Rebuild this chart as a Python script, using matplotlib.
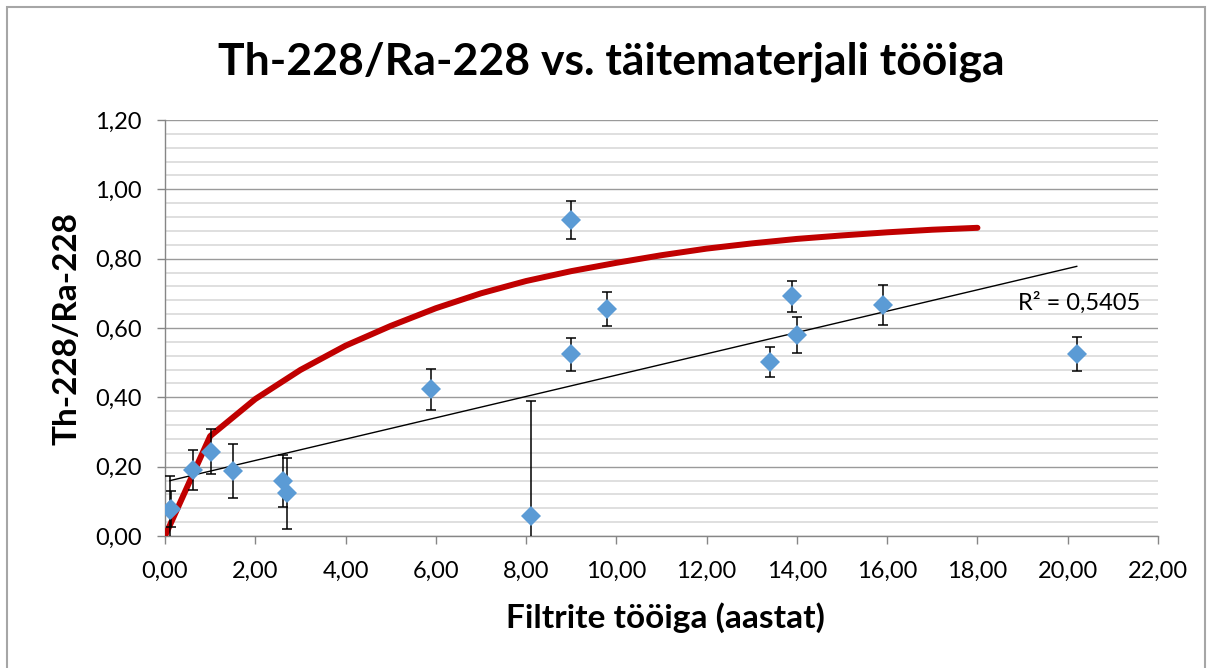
import numpy as np
import matplotlib
matplotlib.use("Agg")
import matplotlib.pyplot as plt
from matplotlib.ticker import MultipleLocator, FuncFormatter
from matplotlib.patches import Rectangle

plt.rcParams['font.family'] = ['Lato', 'DejaVu Sans']

# ---- data ----
title = "Th-228/Ra-228 vs. täitematerjali tööiga"
xlabel = "Filtrite tööiga (aastat)"
ylabel = "Th-228/Ra-228"
r2_label = "R² = 0,5405"

age_years = [0.11, 0.13, 0.62, 1.01, 1.51, 2.61, 2.71, 5.90, 8.10, 9.00, 9.00,
             9.80, 13.40, 13.90, 14.00, 15.90, 20.20]
ratio = [0.074, 0.078, 0.190, 0.243, 0.188, 0.158, 0.123, 0.423, 0.059, 0.911,
         0.524, 0.655, 0.503, 0.692, 0.581, 0.666, 0.525]
ratio_err = [0.098, 0.052, 0.058, 0.065, 0.078, 0.075, 0.102, 0.060, 0.330, 0.055,
             0.048, 0.050, 0.043, 0.045, 0.052, 0.058, 0.050]

model_t = [0, 1, 2, 3, 4, 5, 6, 7, 8, 9, 10, 11, 12, 13, 14, 15, 16, 17, 18]
model_ratio = [0.0, 0.288, 0.395, 0.479, 0.549, 0.606, 0.657, 0.700, 0.7355, 0.764,
               0.788, 0.810, 0.829, 0.844, 0.857, 0.867, 0.876, 0.8835, 0.889]

x_ticks = [0, 2, 4, 6, 8, 10, 12, 14, 16, 18, 20, 22]
y_ticks = [0.0, 0.2, 0.4, 0.6, 0.8, 1.0, 1.2]

# ---- figure ----
W, H = 1213, 668
fig = plt.figure(figsize=(W / 100, H / 100), dpi=100)
ax = fig.add_axes([165 / W, 1 - 536 / H, (1158 - 165) / W, (536 - 120) / H])

# chart border
fig.patches.append(Rectangle((7 / W, -0.05), (1205 - 7) / W, 1 - 7 / H + 0.05,
                             transform=fig.transFigure, fill=False,
                             edgecolor='#a6a6a6', linewidth=1.5))

ax.set_xlim(0, 22)
ax.set_ylim(0, 1.2)
ax.set_xticks(x_ticks)
ax.set_yticks(y_ticks)
ax.yaxis.set_minor_locator(MultipleLocator(0.04))
fmt = FuncFormatter(lambda v, p: f"{v:.2f}".replace('.', ','))
ax.xaxis.set_major_formatter(fmt)
ax.yaxis.set_major_formatter(fmt)

ax.grid(axis='y', which='minor', color='#d9d9d9', linewidth=1.2, zorder=0)
ax.grid(axis='y', which='major', color='#9a9a9a', linewidth=1.0, zorder=0)
ax.set_axisbelow(True)

for s in ['top', 'right']:
    ax.spines[s].set_visible(False)
for s in ['left', 'bottom']:
    ax.spines[s].set_color('#868686')
    ax.spines[s].set_linewidth(1.0)

ax.tick_params(axis='both', which='major', direction='out', length=6,
               color='#868686', width=1.0, labelsize=17, labelcolor='black')
ax.tick_params(axis='x', pad=12)
ax.tick_params(axis='y', pad=11)
ax.tick_params(axis='y', which='minor', length=0)

# model curve
ax.plot(model_t, model_ratio, color='#c00000', linewidth=4.3,
        solid_capstyle='round', zorder=3)

# linear trend
coef = np.polyfit(age_years, ratio, 1)
xt = np.array([min(age_years), max(age_years)])
ax.plot(xt, np.polyval(coef, xt), color='black', linewidth=1.0, zorder=4)

# error bars
ax.errorbar(age_years, ratio, yerr=ratio_err, fmt='none', ecolor='black',
            elinewidth=1.1, capsize=3.8, capthick=1.1, zorder=5)
# data markers
ax.plot(age_years, ratio, linestyle='none', marker='D', color='#5b9bd5',
        markersize=10, markeredgewidth=0, zorder=6)

ax.text((1018 - 165) / 993, (536 - 310) / 416, r2_label, transform=ax.transAxes,
        fontsize=17, ha='left', va='baseline')

fig.text(611 / W, 1 - 75 / H, title, fontsize=32, fontweight='bold',
         ha='center', va='baseline')

ax.set_xlabel(xlabel, fontsize=24, fontweight='bold')
ax.xaxis.label.set_va('baseline')
ax.xaxis.set_label_coords((665 - 165) / 993, (536 - 627.7) / 416)
ax.set_ylabel(ylabel, fontsize=24, fontweight='bold')
ax.yaxis.label.set_va('baseline')
ax.yaxis.set_label_coords((76.7 - 165) / 993, (536 - 329) / 416)

fig.savefig('out.png', dpi=100)
